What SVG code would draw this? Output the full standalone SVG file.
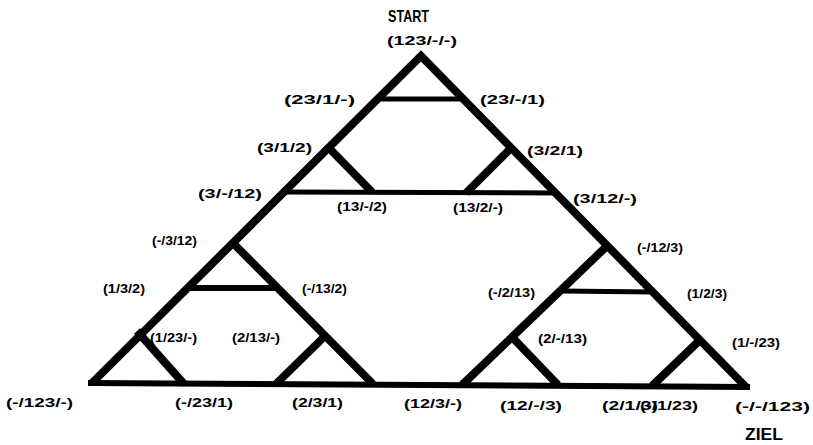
<svg xmlns="http://www.w3.org/2000/svg" width="813" height="445" viewBox="0 0 813 445">
<style>
.bg{fill:#fff}
.e{stroke:#000;fill:none;stroke-linecap:butt;stroke-linejoin:miter}
.o{stroke-width:8}
.d{stroke-width:8}
.h{stroke-width:5}
.b{stroke-width:6}
text{font-family:"Liberation Sans",Arial,Helvetica,sans-serif;font-weight:bold;font-size:12px;fill:#000}
.title{font-size:17px}
</style>
<rect class="bg" x="0" y="0" width="813" height="445"/>
<g id="connectors">
<polyline class="e o" points="92,383 421,56 746,387"/>
<line class="e b" x1="88" y1="383" x2="750" y2="387"/>
<line class="e h" x1="376" y1="99" x2="466" y2="99"/>
<line class="e d" x1="327" y1="146" x2="372" y2="192"/>
<line class="e d" x1="512" y1="147" x2="466" y2="193"/>
<line class="e h" x1="281" y1="192" x2="558" y2="193"/>
<line class="e d" x1="232" y1="242" x2="373" y2="384"/>
<line class="e b" x1="186" y1="288" x2="278" y2="288"/>
<line class="e d" x1="137" y1="331" x2="184" y2="384"/>
<line class="e d" x1="326" y1="335" x2="276" y2="384"/>
<line class="e d" x1="608" y1="245" x2="462" y2="385"/>
<line class="e h" x1="560" y1="291" x2="654" y2="292"/>
<line class="e d" x1="511" y1="336" x2="558" y2="385"/>
<line class="e d" x1="701" y1="339" x2="652" y2="386"/>
</g>
<g id="title-start"><text class="title" x="388" y="22" textLength="41" lengthAdjust="spacingAndGlyphs">START</text></g>
<g id="title-ziel"><text class="title" x="745" y="440" textLength="38" lengthAdjust="spacingAndGlyphs">ZIEL</text></g>
<g id="n-123--"><text x="387" y="45" textLength="70" lengthAdjust="spacingAndGlyphs">(123/-/-)</text></g>
<g id="n-23-1-"><text x="284" y="104" textLength="71" lengthAdjust="spacingAndGlyphs">(23/1/-)</text></g>
<g id="n-23--1"><text x="480" y="104" textLength="65" lengthAdjust="spacingAndGlyphs">(23/-/1)</text></g>
<g id="n-3-1-2"><text x="257" y="152" textLength="55" lengthAdjust="spacingAndGlyphs">(3/1/2)</text></g>
<g id="n-3-2-1"><text x="527" y="155" textLength="56" lengthAdjust="spacingAndGlyphs">(3/2/1)</text></g>
<g id="n-3--12"><text x="198" y="198" textLength="64" lengthAdjust="spacingAndGlyphs">(3/-/12)</text></g>
<g id="n-13--2"><text x="337" y="211" textLength="50" lengthAdjust="spacingAndGlyphs">(13/-/2)</text></g>
<g id="n-13-2-"><text x="453" y="212" textLength="50" lengthAdjust="spacingAndGlyphs">(13/2/-)</text></g>
<g id="n-3-12-"><text x="573" y="203" textLength="64" lengthAdjust="spacingAndGlyphs">(3/12/-)</text></g>
<g id="n--3-12"><text x="152" y="245" textLength="45" lengthAdjust="spacingAndGlyphs">(-/3/12)</text></g>
<g id="n-1-3-2"><text x="103" y="293" textLength="42" lengthAdjust="spacingAndGlyphs">(1/3/2)</text></g>
<g id="n--13-2"><text x="302" y="293" textLength="45" lengthAdjust="spacingAndGlyphs">(-/13/2)</text></g>
<g id="n-1-23-"><text x="150" y="342" textLength="47" lengthAdjust="spacingAndGlyphs">(1/23/-)</text></g>
<g id="n-2-13-"><text x="232" y="342" textLength="48" lengthAdjust="spacingAndGlyphs">(2/13/-)</text></g>
<g id="n--123-"><text x="6" y="407" textLength="67" lengthAdjust="spacingAndGlyphs">(-/123/-)</text></g>
<g id="n--23-1"><text x="175" y="407" textLength="58" lengthAdjust="spacingAndGlyphs">(-/23/1)</text></g>
<g id="n-2-3-1"><text x="292" y="407" textLength="51" lengthAdjust="spacingAndGlyphs">(2/3/1)</text></g>
<g id="n-12-3-"><text x="404" y="408" textLength="58" lengthAdjust="spacingAndGlyphs">(12/3/-)</text></g>
<g id="n--12-3"><text x="637" y="252" textLength="46" lengthAdjust="spacingAndGlyphs">(-/12/3)</text></g>
<g id="n--2-13"><text x="488" y="297" textLength="47" lengthAdjust="spacingAndGlyphs">(-/2/13)</text></g>
<g id="n-1-2-3"><text x="687" y="298" textLength="40" lengthAdjust="spacingAndGlyphs">(1/2/3)</text></g>
<g id="n-2--13"><text x="538" y="343" textLength="49" lengthAdjust="spacingAndGlyphs">(2/-/13)</text></g>
<g id="n-1--23"><text x="732" y="347" textLength="48" lengthAdjust="spacingAndGlyphs">(1/-/23)</text></g>
<g id="n-12--3"><text x="500" y="410" textLength="62" lengthAdjust="spacingAndGlyphs">(12/-/3)</text></g>
<g id="n-2-1-3"><text x="602" y="410" textLength="56" lengthAdjust="spacingAndGlyphs">(2/1/3)</text></g>
<g id="n--1-23"><text x="640" y="410" textLength="58" lengthAdjust="spacingAndGlyphs">(-/1/23)</text></g>
<g id="n---123"><text x="735" y="411" textLength="75" lengthAdjust="spacingAndGlyphs">(-/-/123)</text></g>
</svg>
